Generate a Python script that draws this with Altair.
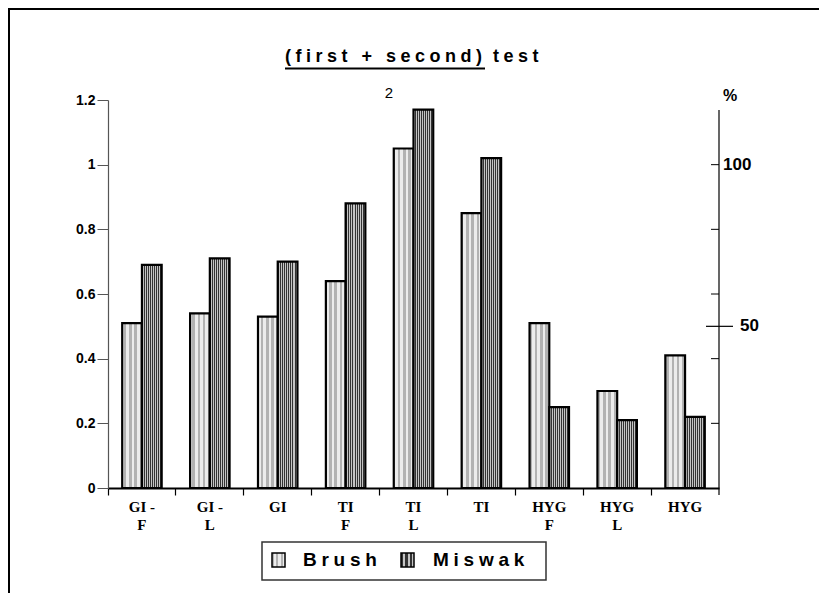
import altair as alt
import pandas as pd

# ---------------- data ----------------
categories = ["GI -|F", "GI -|L", "GI", "TI|F", "TI|L", "TI", "HYG|F", "HYG|L", "HYG"]
series = ["Brush", "Miswak"]
brush = [0.51, 0.54, 0.53, 0.64, 1.05, 0.85, 0.51, 0.30, 0.41]
miswak = [0.69, 0.71, 0.70, 0.88, 1.17, 1.02, 0.25, 0.21, 0.22]
y_ticks = [0, 0.2, 0.4, 0.6, 0.8, 1.0, 1.2]
pct_ticks = [20, 40, 60, 80, 100]
pct_mid = [50]
pct_big = [100]
title_main = "(first + second)"
title_tail = "test"
title_den = "2"
pct_unit = "%"

rows = []
for c, b, m in zip(categories, brush, miswak):
    rows.append({"cat": c, "series": series[0], "value": b})
    rows.append({"cat": c, "series": series[1], "value": m})
df = pd.DataFrame(rows)


def spaced(s):
    return "\u2005".join(s)


def stripes(c1, c2, n):
    stops = []
    for i in range(n):
        a, mid, b = i / n, (i + 0.5) / n, (i + 1) / n
        stops += [alt.GradientStop(color=c1, offset=a), alt.GradientStop(color=c1, offset=mid),
                  alt.GradientStop(color=c2, offset=mid), alt.GradientStop(color=c2, offset=b)]
    return alt.Gradient(gradient="linear", stops=stops, x1=0, x2=1, y1=0, y2=0)


grad_brush = stripes("#ececec", "#b2b2b2", 16)
grad_misw = stripes("#333333", "#c4c4c4", 10)

W, H = 611, 388

# ---------------- bars ----------------
x_enc = alt.X("cat:N", sort=categories,
              scale=alt.Scale(domain=categories, paddingInner=0, paddingOuter=0),
              axis=alt.Axis(title=None, bandPosition=0, labelAngle=0,
                            labelExpr="split(datum.label, '|')", labelFont="Liberation Serif",
                            labelFontWeight="bold", labelFontSize=15, labelLineHeight=18,
                            labelBaseline="top", labelPadding=4, labelColor="black",
                            labelOverlap=False, labelBound=False,
                            domainColor="black", domainWidth=2, tickColor="black",
                            tickSize=7, tickWidth=1.2))
xo_enc = alt.XOffset("series:N", scale=alt.Scale(domain=series, paddingInner=0, paddingOuter=0.72))
y_enc = alt.Y("value:Q", scale=alt.Scale(domain=[0, 1.2], nice=False, zero=True),
              axis=alt.Axis(title=None, values=y_ticks, format="~g", grid=False,
                            domainColor="#555", domainWidth=1.2, tickColor="#555", tickSize=11,
                            labelFont="Liberation Sans", labelFontWeight="bold", labelFontSize=14,
                            labelColor="black", labelPadding=2))

base = alt.Chart(df).encode(x=x_enc, xOffset=xo_enc, y=y_enc)
bars_b = base.transform_filter(alt.datum.series == series[0]).mark_bar(
    fill=grad_brush, stroke="black", strokeWidth=2.2)
bars_m = base.transform_filter(alt.datum.series == series[1]).mark_bar(
    fill=grad_misw, stroke="black", strokeWidth=2.2)
bars = alt.layer(bars_b, bars_m)

# ---------------- right (%) axis ----------------
pct_scale = alt.Scale(domain=[0, 120], nice=False, zero=True)
r_line = alt.Chart(pd.DataFrame({"p": [0]})).mark_rule(color="black", strokeWidth=1.2).encode(
    x=alt.value(W), y=alt.value(10), y2=alt.value(H + 7))
r_ticks = alt.Chart(pd.DataFrame({"p": pct_ticks})).mark_rule(color="black", strokeWidth=1).encode(
    y=alt.Y("p:Q", scale=pct_scale, axis=None), x=alt.value(W - 8), x2=alt.value(W))
r_mid = alt.Chart(pd.DataFrame({"p": pct_mid})).mark_rule(color="black", strokeWidth=1.2).encode(
    y=alt.Y("p:Q", scale=pct_scale, axis=None), x=alt.value(W - 13), x2=alt.value(W + 14))
r_mid_lab = alt.Chart(pd.DataFrame({"p": pct_mid})).mark_text(
    align="left", baseline="middle", font="Liberation Sans", fontWeight="bold", fontSize=17,
    color="black").encode(y=alt.Y("p:Q", scale=pct_scale, axis=None), x=alt.value(W + 21),
                          text=alt.Text("p:Q"))
r_big_lab = alt.Chart(pd.DataFrame({"p": pct_big})).mark_text(
    align="left", baseline="middle", font="Liberation Sans", fontWeight="bold", fontSize=17,
    color="black").encode(y=alt.Y("p:Q", scale=pct_scale, axis=None), x=alt.value(W + 4),
                          text=alt.Text("p:Q"))
right = alt.layer(r_ticks, r_mid, r_mid_lab, r_big_lab)

# ---------------- decorations ----------------
def txt(s, x, y, size, weight="bold", align="left", baseline="alphabetic"):
    return alt.Chart(pd.DataFrame({"t": [s]})).mark_text(
        align=align, baseline=baseline, font="Liberation Sans", fontWeight=weight,
        fontSize=size, color="black").encode(text="t:N", x=alt.value(x), y=alt.value(y))


def rule(x, x2, y, y2, w, color="black"):
    return alt.Chart(pd.DataFrame({"t": [0]})).mark_rule(color=color, strokeWidth=w).encode(
        x=alt.value(x), x2=alt.value(x2), y=alt.value(y), y2=alt.value(y2))


t1 = txt(spaced(title_main), 177, -38, 18)
t2 = txt(spaced(title_tail), 385, -38, 18)
uline = rule(177, 377, -31.5, -31.5, 2)
den = txt(title_den, 281, -7, 15, weight="normal", align="center", baseline="middle")
pct = txt(pct_unit, 615, 1, 16)
border_l = rule(-100.5, -100.5, -95, 500, 5)
border_t = rule(-105, 730, -92.5, -92.5, 5)

leg_box = alt.Chart(pd.DataFrame({"t": [0]})).mark_rect(
    fill="white", stroke="#333", strokeWidth=1.5).encode(
    x=alt.value(154), x2=alt.value(438), y=alt.value(442), y2=alt.value(480))
leg_sym_b = alt.Chart(pd.DataFrame({"t": [0]})).mark_rect(
    fill=grad_brush, stroke="black", strokeWidth=1.5).encode(
    x=alt.value(164), x2=alt.value(177), y=alt.value(453), y2=alt.value(467))
leg_sym_m = alt.Chart(pd.DataFrame({"t": [0]})).mark_rect(
    fill=grad_misw, stroke="black", strokeWidth=1.5).encode(
    x=alt.value(293), x2=alt.value(306), y=alt.value(453), y2=alt.value(467))
leg_t_b = txt(spaced(series[0]), 195, 466, 19)
leg_t_m = txt(spaced(series[1]), 325, 466, 19)

deco = alt.layer(r_line, t1, t2, uline, den, pct, border_l, border_t,
                 leg_box, leg_sym_b, leg_sym_m, leg_t_b, leg_t_m)

chart = alt.layer(bars, right, deco).resolve_scale(y="independent").properties(
    width=W, height=H,
    padding={"left": 100, "top": 92, "right": 100, "bottom": 105},
    autosize=alt.AutoSizeParams(type="none"),
    background="white",
).configure_view(stroke=None)

chart.save("out.html", embed_options={"renderer": "svg", "actions": False})
